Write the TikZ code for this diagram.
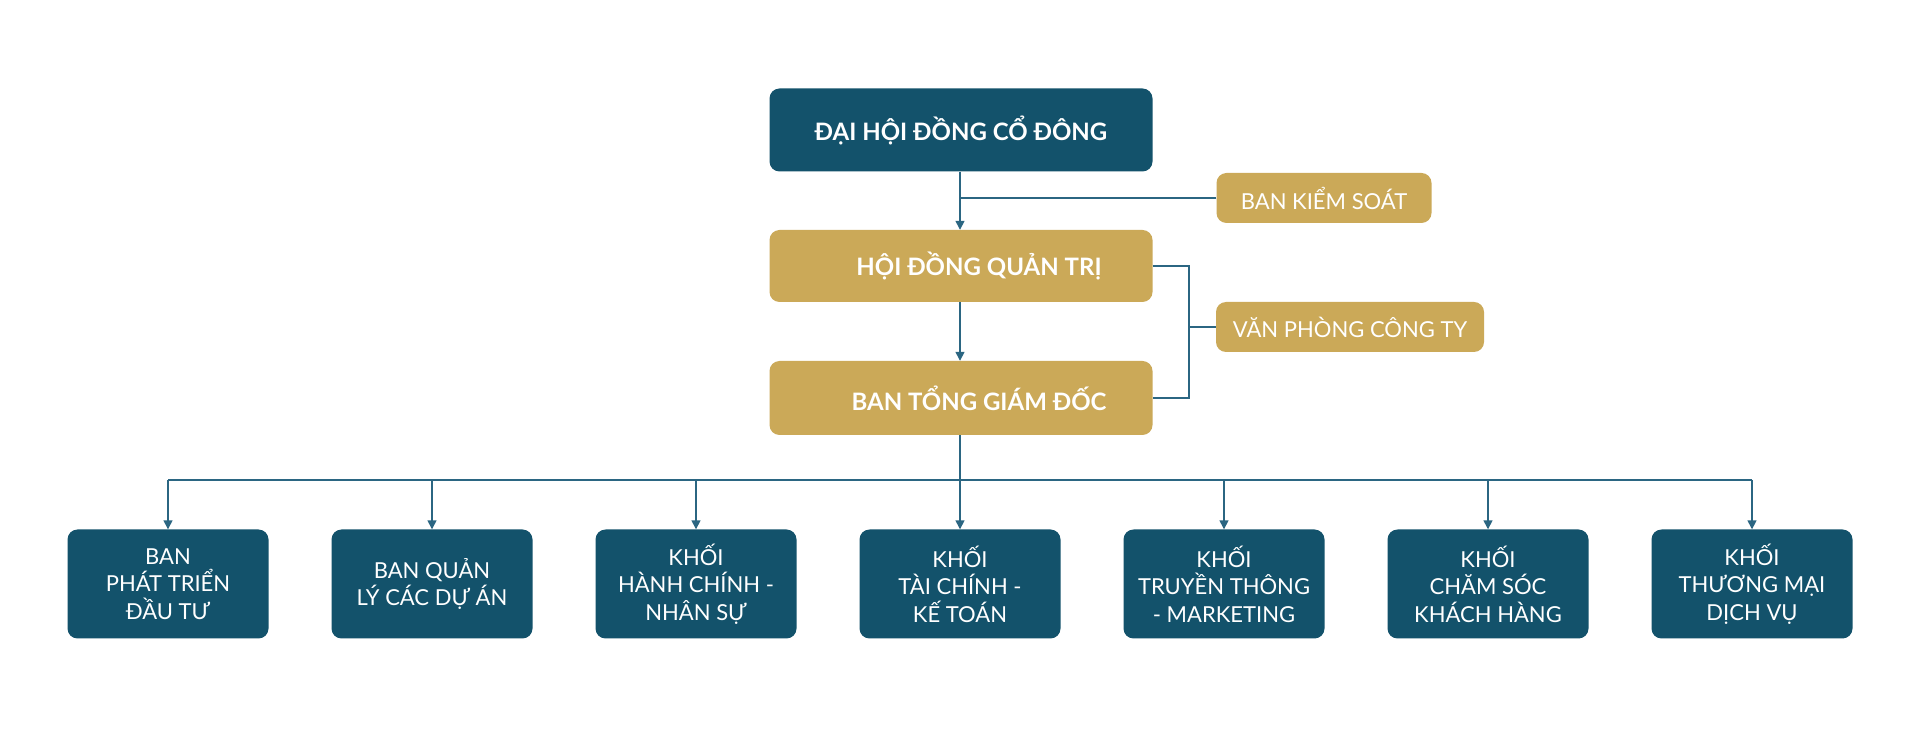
\documentclass[tikz,border=0pt]{standalone}
\usepackage{fontspec}
\setmainfont{Lato}
\usetikzlibrary{positioning,arrows.meta}
\definecolor{boxteal}{HTML}{13526B}
\definecolor{boxgold}{HTML}{CBA958}
\definecolor{linecol}{HTML}{2B6682}
\tikzset{
  box/.style={rounded corners=10pt, text=white, align=center, inner sep=0pt},
  darkbox/.style={box, fill=boxteal},
  goldbox/.style={box, fill=boxgold},
  headbox/.style={minimum width=383pt, font=\fontsize{24}{29}\selectfont\bfseries},
  sidebox/.style={goldbox, minimum height=50pt, font=\fontsize{22}{27}\selectfont},
  unitbox/.style={darkbox, minimum width=201pt, minimum height=109pt, font=\fontsize{22}{27.5}\selectfont},
  line/.style={draw=linecol, line width=1.5pt},
  arr/.style={line, -{Triangle[length=9pt,width=9pt]}}
}

\begin{document}
\begin{tikzpicture}[x=1pt,y=1pt]
\fill[white] (0,0) rectangle (1920,734);
\useasboundingbox (0,0) rectangle (1920,734);
\node[darkbox,headbox,minimum height=83pt] (dhcd) at (961,604) {ĐẠI HỘI ĐỒNG CỔ ĐÔNG};
\node[goldbox,headbox,minimum height=72pt] (hdqt) at (961,468) {\hspace*{36pt}HỘI ĐỒNG QUẢN TRỊ};
\node[goldbox,headbox,minimum height=74pt] (btgd) at (961,336) {\hspace*{36pt}BAN TỔNG GIÁM ĐỐC};
\node[sidebox,minimum width=215pt] (bks) at (1324,536) {BAN KIỂM SOÁT};
\node[sidebox,minimum width=268pt] (vp) at (1350,407) {VĂN PHÒNG CÔNG TY};
\node[unitbox] (b1) at (168,150) {BAN\\PHÁT TRIỂN\\ĐẦU TƯ};
\node[unitbox] (b2) at (432,150) {BAN QUẢN\\LÝ CÁC DỰ ÁN};
\node[unitbox] (b3) at (696,150) {KHỐI\\HÀNH CHÍNH -\\NHÂN SỰ};
\node[unitbox] (b4) at (960,150) {KHỐI\\TÀI CHÍNH -\\KẾ TOÁN};
\node[unitbox] (b5) at (1224,150) {KHỐI\\TRUYỀN THÔNG\\- MARKETING};
\node[unitbox] (b6) at (1488,150) {KHỐI\\CHĂM SÓC\\KHÁCH HÀNG};
\node[unitbox] (b7) at (1752,150) {KHỐI\\THƯƠNG MẠI\\DỊCH VỤ};
\coordinate (vbar) at (1189,407);
\coordinate (bus) at (960,254);
\draw[arr] (dhcd.south -| 960,0) -- (hdqt.north -| 960,0);
\draw[line] (bks.west) -- (bks.west -| 960,0);
\draw[arr] (hdqt.south -| 960,0) -- (btgd.north -| 960,0);
\draw[line] (hdqt.east) -- (hdqt.east -| vbar) -- (btgd.east -| vbar) -- (btgd.east);
\draw[line] (vp.west) -- (vbar);
\draw[line] (btgd.south -| bus) -- (bus);
\draw[line] (bus -| b1.north) -- (bus -| b7.north);
\draw[arr] (bus -| b1.north) -- (b1.north);
\draw[arr] (bus -| b2.north) -- (b2.north);
\draw[arr] (bus -| b3.north) -- (b3.north);
\draw[arr] (bus) -- (b4.north);
\draw[arr] (bus -| b5.north) -- (b5.north);
\draw[arr] (bus -| b6.north) -- (b6.north);
\draw[arr] (bus -| b7.north) -- (b7.north);
\end{tikzpicture}
\end{document}
